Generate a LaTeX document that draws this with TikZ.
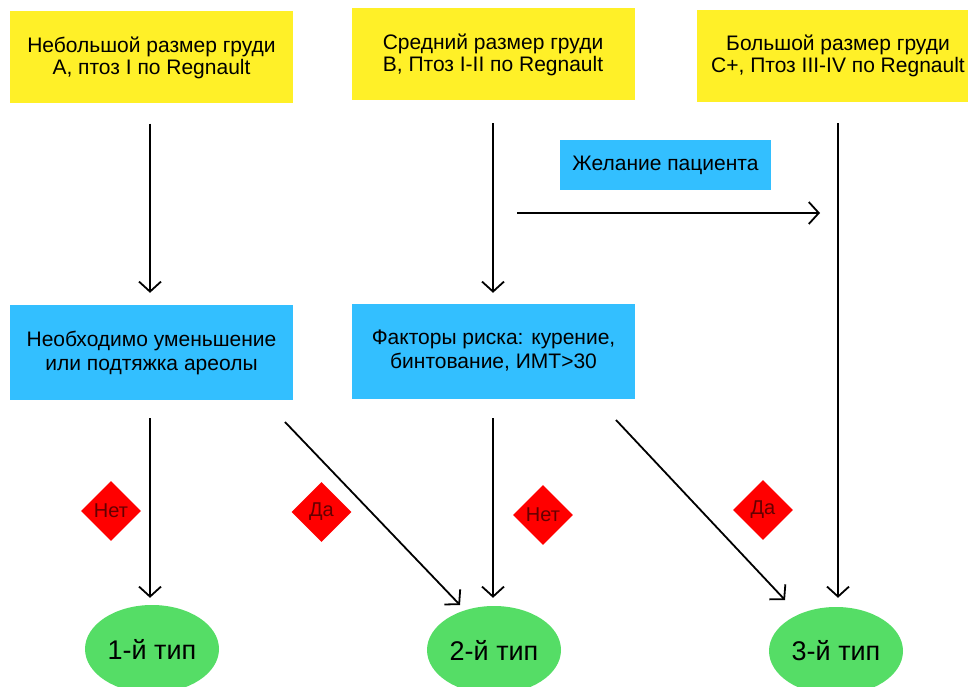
\documentclass[tikz,border=0pt]{standalone}
\usepackage{fontspec}
\setmainfont{Liberation Sans}
\usetikzlibrary{shapes.geometric,arrows.meta}
\definecolor{ybox}{RGB}{255,240,40}
\definecolor{bbox}{RGB}{51,191,255}
\definecolor{gell}{RGB}{85,221,102}
\definecolor{rdia}{RGB}{255,0,0}
\definecolor{rtext}{RGB}{100,0,0}
\tikzset{
  topbox/.style={fill=ybox, minimum width=283pt, minimum height=92pt, align=center, font=\fontsize{21}{22}\selectfont, inner sep=0},
  bluebox/.style={fill=bbox, minimum width=283pt, minimum height=95pt, align=center, font=\fontsize{21}{24}\selectfont, inner sep=0},
  wishbox/.style={fill=bbox, minimum width=211pt, minimum height=50pt, font=\fontsize{21}{22}\selectfont, inner sep=0},
  ansdia/.style={diamond, fill=rdia, minimum width=60pt, minimum height=60pt, inner sep=0, text=rtext, font=\fontsize{20}{22}\selectfont},
  resell/.style={ellipse, fill=gell, minimum width=134pt, minimum height=88pt, inner sep=0, font=\fontsize{27}{30}\selectfont},
  arrline/.style={line width=1.8pt, -{Straight Barb[length=10pt,width=22pt,line width=1.8pt]}}
}
\begin{document}
\begin{tikzpicture}[x=1pt,y=-1pt]
\useasboundingbox (0,0) rectangle (968,687);
\fill[white] (0,0) rectangle (968,687);
% top boxes
\node[topbox] (y1) at (151.5,57.5) {Небольшой размер груди\\A, птоз I по Regnault};
\node[topbox] (y2) at (493,54.5) {Средний размер груди\\B, Птоз I-II по Regnault};
\node[topbox] (y3) at (838,56) {Большой размер груди\\C+, Птоз III-IV по Regnault};
% wish box
\node[wishbox] (w) at (665.5,165) {Желание пациента};
% blue boxes
\node[bluebox] (b1) at (151.5,352.5) {Необходимо уменьшение\\или подтяжка ареолы};
\node[bluebox] (b2) at (493.5,351) {Факторы риска: курение,\\бинтование, ИМТ>30};
% answers
\node[ansdia] (n1) at (111,511) {Нет};
\node[ansdia] (d1) at (321.5,512) {Да};
\node[ansdia] (n2) at (543,515) {Нет};
\node[ansdia] (d2) at (763,510) {Да};
% results
\node[resell] (e1) at (152,649) {1-й тип};
\node[resell] (e2) at (494,650) {2-й тип};
\node[resell] (e3) at (836,651) {3-й тип};
% connector free ends
\coordinate (h0) at (517,213);
\coordinate (h1) at (820,213);
\coordinate (s1) at (285,422);
\coordinate (t1) at (460,605);
\coordinate (s2) at (616,420);
\coordinate (t2) at (785,600);
% connectors
\draw[arrline, shorten <=20pt, shorten >=12pt] ([xshift=-1.5pt]y1.south) -- ([xshift=-1.5pt]b1.north);
\draw[arrline, shorten <=22.5pt, shorten >=10.5pt] (y2.south) -- (y2.south |- b2.north);
\draw[arrline, shorten <=21pt, shorten >=9pt] (y3.south) -- (y3.south |- e3.north);
\draw[arrline] (h0) -- (h1);
\draw[arrline, shorten <=18pt, shorten >=7pt] ([xshift=-2pt]e1.north |- b1.south) -- ([xshift=-2pt]e1.north);
\draw[arrline, shorten <=19.5pt, shorten >=8pt] ([xshift=-1pt]b2.south -| e2.north) -- ([xshift=-1pt]e2.north);
\draw[arrline] (s1) -- (t1);
\draw[arrline] (s2) -- (t2);
\end{tikzpicture}
\end{document}
